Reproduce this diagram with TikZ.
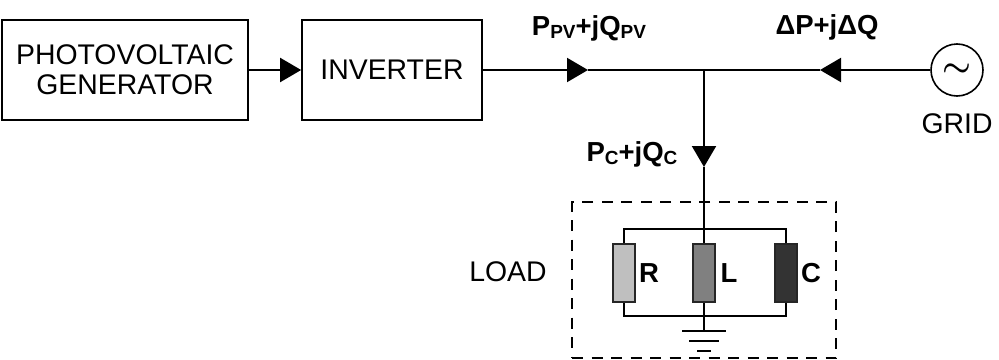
\documentclass[tikz,border=0pt]{standalone}
\usepackage{graphicx}
\usepackage{fontspec}
\setmainfont{Liberation Sans}
\usetikzlibrary{calc, arrows.meta}
\tikzstyle{int}=[draw=black, line width=1.7pt, minimum height=100pt, align=center, font=\fontsize{28.4}{30}\selectfont]
\tikzstyle{elem}=[draw=black!85, line width=2pt, minimum width=22pt, minimum height=58pt, inner sep=0pt]
\tikzstyle{lbl}=[font=\fontsize{27.5}{30}\selectfont\bfseries, inner sep=0pt]
\tikzstyle{txt}=[font=\fontsize{28.4}{30}\selectfont, inner sep=0pt]
\tikzstyle{wire}=[draw=black, line width=2.1pt]
\newcommand{\sub}[1]{\raisebox{-3pt}{\fontsize{19}{19}\selectfont #1}}

\begin{document}
\begin{tikzpicture}[x=1pt,y=1pt,node distance=100pt,>={Triangle[length=21pt,width=24pt]}]
      \useasboundingbox (0,0) rectangle (999,-359);
      \node [int, minimum width=246pt] (gen) at (125,-70) {PHOTOVOLTAIC\\GENERATOR};
      \node [int, minimum width=180pt] (inv) [right of=gen, node distance=267pt] {INVERTER};
      \node [coordinate] (pvtip) [right of=inv, node distance=196pt] {};
      \node [coordinate] (bus) [right of=pvtip, node distance=116pt] {};
      \node [coordinate] (gridtip) [right of=bus, node distance=116pt] {};
      \node [draw=black, line width=1.6pt, circle, minimum size=52pt, inner sep=0pt, font=\fontsize{24.88}{26}\selectfont] (grid) [right of=gridtip, node distance=137pt] {\scalebox{1.3}{\boldmath$\sim$}};
      \node [coordinate] (loadtip) [below of=bus, node distance=97pt] {};

      \node [draw=black, line width=2.4pt, dash pattern=on 11pt off 8.5pt, minimum width=264pt, minimum height=156pt] (load) [below of=bus, node distance=210pt] {};
      \node [coordinate] (top) [below of=bus, node distance=159pt] {};
      \node [elem, fill=black!50] (l) [below of=top, node distance=44pt] {};
      \node [elem, fill=black!25] (r) [left of=l, node distance=80pt] {};
      \node [elem, fill=black!80] (c) [right of=l, node distance=82pt] {};
      \node [coordinate] (bottom) [below of=l, node distance=43pt] {};
      \node [coordinate] (g1) [below of=bottom, node distance=15pt] {};
      \node [coordinate] (g2) [below of=g1, node distance=10pt] {};
      \node [coordinate] (g3) [below of=g2, node distance=10pt] {};

      \path[wire,->] (gen) -- (inv);
      \path[wire,->] (inv) -- (pvtip);
      \path[wire] (pvtip) -- (bus);
      \path[wire,->] (grid) -- (gridtip);
      \path[wire] (gridtip) -- (bus);
      \path[wire,->] (bus) -- (loadtip);
      \path[wire] (loadtip) -- (l);
      \path[wire] (r) |- (top) -| (c);
      \path[wire] (r) |- (bottom) -| (c);
      \path[wire] (l) -- (g1);
      \path[wire] ($(g1)+(-22,0)$) -- ($(g1)+(22,0)$);
      \path[wire] ($(g2)+(-15,0)$) -- ($(g2)+(15,0)$);
      \path[wire] ($(g3)+(-7,0)$) -- ($(g3)+(7,0)$);

      \node [lbl] (pv) at (589,-28) {P\sub{PV}+jQ\sub{PV}};
      \node [lbl] (dp) at (827,-27) {ΔP+jΔQ};
      \node [lbl] (pc) at (632,-154) {P\sub{C}+jQ\sub{C}};
      \node [txt] (gridlbl) at (957,-124) {GRID};
      \node [txt] (loadlbl) at (508,-272) {LOAD};
      \node [lbl, right of=r, node distance=25pt] (rlbl) {R};
      \node [lbl, right of=l, node distance=25pt] (llbl) {L};
      \node [lbl, right of=c, node distance=25pt] (clbl) {C};
  \end{tikzpicture}
\end{document}
